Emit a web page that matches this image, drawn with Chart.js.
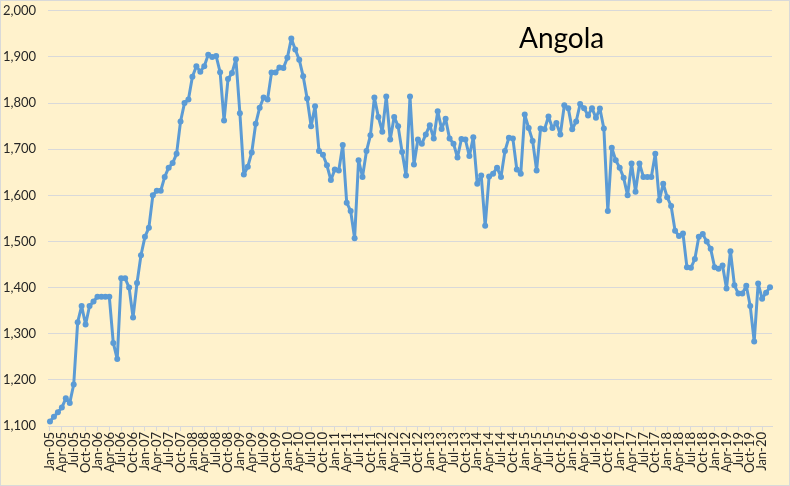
<!DOCTYPE html>
<html>
<head>
<meta charset="utf-8">
<script src="https://cdn.jsdelivr.net/npm/chart.js@4"></script>
<style>
  html, body { margin: 0; padding: 0; background: #FFF2CC; }
  #wrap { width: 790px; height: 486px; }
</style>
</head>
<body>
<div id="wrap"><canvas id="chart" width="790" height="486"></canvas></div>
<script>
'use strict';
// monthly crude output, thousand barrels per day, Jan-05 .. Mar-20
let monthNames = ['Jan', 'Feb', 'Mar', 'Apr', 'May', 'Jun', 'Jul', 'Aug', 'Sep', 'Oct', 'Nov', 'Dec'];
let years = ['05', '06', '07', '08', '09', '10', '11', '12', '13', '14', '15', '16', '17', '18', '19', '20'];
let production = [
  1110, 1120, 1130, 1140, 1160, 1150, 1190, 1325, 1360, 1320, 1360, 1370,
  1380, 1380, 1380, 1380, 1280, 1245, 1420, 1420, 1400, 1335, 1410, 1470,
  1510, 1530, 1600, 1610, 1610, 1640, 1660, 1670, 1690, 1760, 1800, 1808,
  1857, 1880, 1868, 1880, 1905, 1900, 1902, 1867, 1762, 1852, 1865, 1895,
  1778, 1645, 1662, 1693, 1755, 1790, 1812, 1808, 1866, 1866, 1877, 1876,
  1898, 1940, 1916, 1894, 1858, 1810, 1750, 1793, 1696, 1688, 1665, 1633,
  1656, 1654, 1709, 1584, 1566, 1507, 1676, 1640, 1696, 1730, 1812, 1770,
  1738, 1814, 1721, 1770, 1750, 1694, 1643, 1814, 1667, 1721, 1712, 1732,
  1752, 1723, 1782, 1744, 1766, 1723, 1712, 1682, 1722, 1721, 1685, 1726,
  1625, 1643, 1534, 1641, 1647, 1660, 1640, 1696, 1725, 1723, 1656, 1647,
  1775, 1746, 1718, 1654, 1745, 1743, 1771, 1746, 1757, 1732, 1795, 1789,
  1743, 1760, 1798, 1789, 1773, 1789, 1768, 1788, 1745, 1566, 1703, 1676,
  1660, 1638, 1600, 1669, 1608, 1669, 1640, 1640, 1640, 1690, 1589, 1625,
  1596, 1577, 1523, 1512, 1517, 1444, 1443, 1462, 1510, 1516, 1500, 1484,
  1444, 1441, 1448, 1398, 1479, 1405, 1387, 1387, 1404, 1360, 1283, 1409,
  1376, 1389, 1401
];
let yTicks = [1100, 1200, 1300, 1400, 1500, 1600, 1700, 1800, 1900, 2000];
let chartTitle = 'Angola';

let labels = [];
years.forEach(yy => {
  monthNames.forEach(m => {
    if (labels.length < production.length) {
      labels.push(m + '-' + yy);
    }
  });
});

const titleAndFrame = {
  id: 'titleAndFrame',
  afterDraw(chart) {
    const ctx = chart.ctx;
    ctx.save();
    ctx.font = '28px Lato';
    ctx.fillStyle = '#000000';
    ctx.textBaseline = 'alphabetic';
    ctx.textAlign = 'left';
    ctx.fillText(chartTitle, 519, 48);
    ctx.strokeStyle = '#d9d9d9';
    ctx.lineWidth = 1;
    ctx.strokeRect(0.5, 0.5, chart.width - 1, chart.height - 1);
    ctx.restore();
  }
};

let chartObj = document.getElementById('chart').getContext('2d');
let chart = new Chart(chartObj, {
  type: 'line',
  data: {
    labels: labels,
    datasets: [{
      label: chartTitle,
      data: production,
      borderColor: '#5B9BD5',
      backgroundColor: '#5B9BD5',
      borderWidth: 3,
      borderJoinStyle: 'round',
      borderCapStyle: 'round',
      pointRadius: 3,
      pointBorderWidth: 0,
      pointBackgroundColor: '#5B9BD5',
      tension: 0
    }]
  },
  options: {
    responsive: false,
    devicePixelRatio: 1,
    animation: false,
    layout: {
      padding: { left: 3, top: 9, right: 18, bottom: 0 }
    },
    plugins: {
      legend: { display: false },
      tooltip: { enabled: false },
      title: { display: false }
    },
    scales: {
      x: {
        offset: true,
        border: { display: true, color: '#d9d9d9', width: 1 },
        grid: {
          drawOnChartArea: false,
          drawTicks: true,
          tickLength: 5,
          color: '#d9d9d9'
        },
        ticks: {
          autoSkip: false,
          minRotation: 90,
          maxRotation: 90,
          padding: 1,
          color: '#262626',
          font: { family: 'Lato', size: 13 },
          callback: function (value, index) {
            return index % 3 === 0 ? this.getLabelForValue(value) : null;
          }
        },
        afterFit: function (scale) {
          scale.height = 60;
        }
      },
      y: {
        min: yTicks[0],
        max: yTicks[yTicks.length - 1],
        border: { display: false },
        grid: {
          color: '#d9d9d9',
          drawTicks: false
        },
        afterBuildTicks: function (scale) {
          scale.ticks = yTicks.map(v => ({ value: v }));
        },
        ticks: {
          crossAlign: 'far',
          color: '#262626',
          font: { family: 'Lato', size: 13 },
          callback: function (value) {
            return value.toLocaleString('en-US');
          }
        },
        afterFit: function (scale) {
          scale.width = 45;
        }
      }
    }
  },
  plugins: [titleAndFrame]
});
</script>
</body>
</html>
